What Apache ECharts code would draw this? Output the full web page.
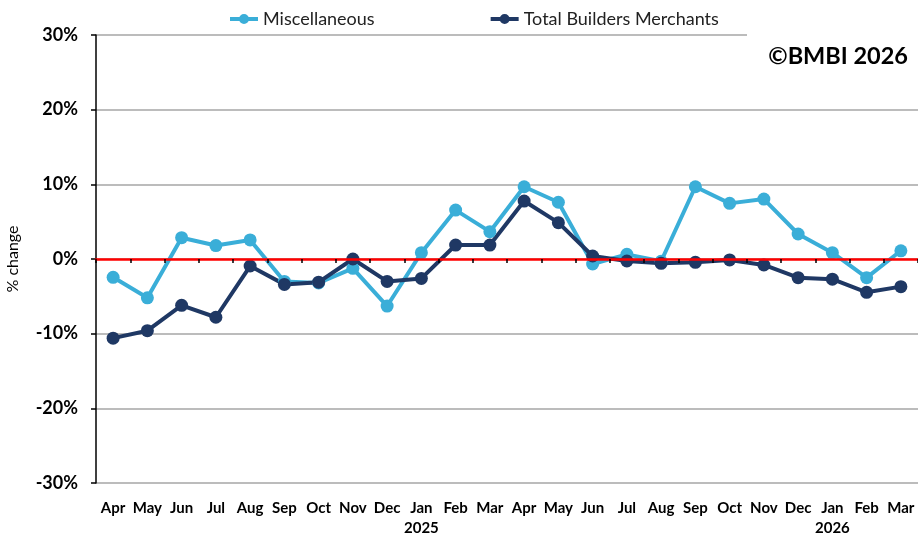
<!DOCTYPE html>
<html>
<head>
<meta charset="utf-8">
<script src="https://cdn.jsdelivr.net/npm/echarts@6/dist/echarts.min.js"></script>
<style>
  html, body { margin: 0; padding: 0; background: #fff; }
  #chart { width: 918px; height: 536px; }
</style>
</head>
<body>
<div id="chart"></div>
<script>
// Monthly % change, Apr 2024 – Mar 2026
const months = ['Apr','May','Jun','Jul','Aug','Sep','Oct','Nov','Dec','Jan','Feb','Mar',
                'Apr','May','Jun','Jul','Aug','Sep','Oct','Nov','Dec','Jan','Feb','Mar'];
const years = ['','','','','','','','','','2025','','',
               '','','','','','','','','','2026','',''];
const miscellaneous = [-2.45, -5.2, 2.85, 1.8, 2.55, -3.0, -3.2, -1.25, -6.3, 0.85, 6.55, 3.66,
                       9.68, 7.6, -0.67, 0.62, -0.3, 9.68, 7.45, 8.03, 3.35, 0.85, -2.5, 1.1];
const totalBuilders = [-10.6, -9.6, -6.2, -7.8, -0.94, -3.4, -3.1, 0.0, -3.0, -2.6, 1.87, 1.87,
                       7.76, 4.87, 0.4, -0.27, -0.58, -0.45, -0.13, -0.8, -2.5, -2.7, -4.46, -3.7];
const yTicks = { min: -30, max: 30, step: 10 };

const FONT = 'Lato, "Open Sans", sans-serif';
const LIGHT = '#3AAED8';
const DARK = '#1F3864';

const GRID_TOP = 35;
const GRID_BOTTOM = 53;
const CHART_H = 536;
// distance from the bottom of the plot up to the 0% line
const zeroOffset = (CHART_H - GRID_TOP - GRID_BOTTOM) * (0 - yTicks.min) / (yTicks.max - yTicks.min);

// legend key: thick line segment with a dot in the middle
const LEGEND_ICON = 'path://M0,3H28V7H0Z M14,0A5,5 0 1,1 14,10A5,5 0 1,1 14,0Z';

const chart = echarts.init(document.getElementById('chart'));
chart.setOption({
  animation: false,
  textStyle: { fontFamily: FONT },
  legend: {
    top: 10,
    left: 230,
    padding: 0,
    itemGap: 116,
    itemWidth: 28,
    itemHeight: 10,
    icon: LEGEND_ICON,
    textStyle: { fontSize: 18, color: '#222', fontFamily: FONT },
    data: ['Miscellaneous', 'Total Builders Merchants']
  },
  grid: {
    left: 96, right: 0, top: GRID_TOP, bottom: GRID_BOTTOM,
    containLabel: false, outerBoundsMode: 'none'
  },
  xAxis: [
    {
      type: 'category',
      data: months,
      boundaryGap: true,
      axisLine: { show: false },
      axisTick: { show: false },
      axisLabel: {
        interval: 0,
        margin: 15,
        fontSize: 15,
        fontWeight: 'bold',
        color: '#000',
        fontFamily: FONT,
        lineHeight: 20,
        formatter: (v, i) => years[i] ? v + '\n' + years[i] : v
      }
    },
    {
      // red zero line with boundary ticks
      type: 'category',
      data: months,
      boundaryGap: true,
      position: 'bottom',
      offset: -zeroOffset,
      z: 10,
      axisLine: { show: true, onZero: false, lineStyle: { color: '#FF0000', width: 2.5 } },
      axisTick: { show: true, length: 4, lineStyle: { color: '#000', width: 1.5 } },
      axisLabel: { show: false }
    }
  ],
  yAxis: {
    type: 'value',
    min: yTicks.min,
    max: yTicks.max,
    interval: yTicks.step,
    name: '% change',
    nameLocation: 'middle',
    nameRotate: 90,
    nameGap: 75,
    nameTextStyle: { fontSize: 16, color: '#000', fontFamily: FONT },
    axisLine: { show: true, lineStyle: { color: '#000', width: 1.5 } },
    axisTick: { show: true, length: 5, lineStyle: { color: '#000', width: 1.5 } },
    axisLabel: {
      margin: 18,
      fontSize: 18,
      fontWeight: 'bold',
      color: '#000',
      fontFamily: FONT,
      formatter: '{value}%'
    },
    splitLine: { lineStyle: { color: '#A6A6A6', width: 1.5 } }
  },
  series: [
    {
      name: 'Miscellaneous',
      type: 'line',
      xAxisIndex: 0,
      data: miscellaneous,
      symbol: 'circle',
      symbolSize: 13,
      lineStyle: { width: 4, color: LIGHT },
      itemStyle: { color: LIGHT }
    },
    {
      name: 'Total Builders Merchants',
      type: 'line',
      xAxisIndex: 0,
      data: totalBuilders,
      symbol: 'circle',
      symbolSize: 13,
      lineStyle: { width: 4, color: DARK },
      itemStyle: { color: DARK }
    }
  ],
  graphic: [
    {
      type: 'rect',
      shape: { x: 747, y: 30, width: 171, height: 45 },
      style: { fill: '#fff' },
      z: 20
    },
    {
      type: 'text',
      right: 10,
      top: 44,
      z: 21,
      style: {
        text: '©BMBI 2026',
        font: 'bold 23.5px ' + FONT,
        fill: '#000'
      }
    }
  ]
});
</script>
</body>
</html>
